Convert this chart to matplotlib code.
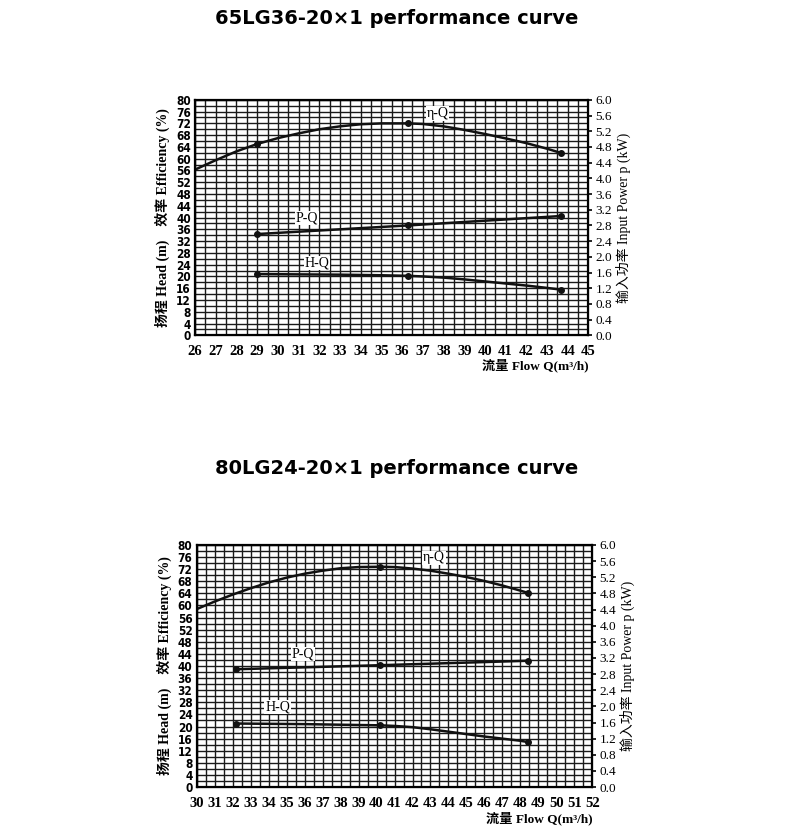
import numpy as np
import matplotlib
matplotlib.use('Agg')
import matplotlib.pyplot as plt
from matplotlib.ticker import MultipleLocator

# ---- 65LG36-20x1 ----
q1 = [26, 27, 28, 29, 30, 31, 32, 33, 34, 35, 36.3, 37, 38, 39, 40, 41, 42, 43, 43.7]
eta1 = [56.3, 59.5, 62.5, 65, 67, 68.6, 70, 71, 71.7, 72, 72, 71.8, 71, 69.8, 68.4, 66.9, 65.3, 63.4, 61.9]
eta1_marks = [3, 10, 18]
qp1 = [29, 36.3, 43.7]
p1 = [2.58, 2.80, 3.04]  # kW
qh1 = [29, 31, 33, 35, 36.3, 37, 38, 39, 40, 41, 42, 43, 43.7]
h1 = [20.8, 20.7, 20.6, 20.4, 20.2, 20.0, 19.6, 19.0, 18.3, 17.6, 16.9, 16.1, 15.5]
h1_marks = [0, 4, 12]

# ---- 80LG24-20x1 ----
q2 = [30, 31, 32, 33, 34, 35, 36, 37, 38, 39, 40.2, 41, 42, 43, 44, 45, 46, 47, 48, 48.4]
eta2 = [58.8, 61.3, 63.6, 65.7, 67.6, 69.2, 70.5, 71.5, 72.3, 72.7, 72.8, 72.7, 72.2, 71.5, 70.5, 69.4, 68.1, 66.6, 64.9, 64.2]
eta2_marks = [10, 19]
qp2 = [32.2, 40.2, 48.4]
p2 = [2.92, 3.02, 3.13]  # kW
qh2 = [32.2, 34, 36, 38, 40.2, 41, 42, 43, 44, 45, 46, 47, 48, 48.4]
h2 = [21.0, 20.9, 20.8, 20.6, 20.4, 20.2, 19.8, 19.1, 18.3, 17.5, 16.7, 16.0, 15.3, 14.9]
h2_marks = [0, 4, 13]

SERIF = ['Liberation Serif', 'Noto Sans CJK SC']


def draw_chart(fig, rect, title, title_y, q_min, q_max,
               q, eta, eta_marks, qp, p, qh, h, h_marks, labels):
    ax = fig.add_axes(rect)
    ax.set_xlim(q_min, q_max)
    ax.set_ylim(0, 80)

    # grid
    ax.xaxis.set_minor_locator(MultipleLocator(0.5))
    ax.yaxis.set_minor_locator(MultipleLocator(2))
    ax.grid(which='both', color='#1a1a1a', linewidth=1.0)
    ax.set_axisbelow(True)
    for s in ax.spines.values():
        s.set_linewidth(1.6)

    ax.set_xticks(np.arange(q_min, q_max + 1, 1))
    ax.set_yticks(np.arange(0, 81, 4))
    ax.tick_params(which='both', length=0, pad=3)
    for lab in ax.get_yticklabels():
        lab.set_family('DejaVu Sans')
        lab.set_stretch('condensed')
        lab.set_fontweight('bold')
        lab.set_fontsize(8.5)
    for lab in ax.get_xticklabels():
        lab.set_family(SERIF)
        lab.set_fontweight('bold')
        lab.set_fontsize(10.5)
    ax.tick_params(axis='x', pad=7)

    # right axis: input power
    ax2 = ax.twinx()
    ax2.set_ylim(0, 6)
    ax2.set_yticks(np.arange(0, 6.01, 0.4))
    ax2.set_yticklabels(['%.1f' % v for v in np.arange(0, 6.01, 0.4)],
                        family=SERIF, fontsize=9.5)
    ax2.tick_params(axis='y', length=3, width=1.2, pad=2)

    lw = 1.8
    ax.plot(q, eta, color='#111111', lw=lw, marker='o', ms=4, markevery=eta_marks, zorder=5)
    ax2.plot(qp, p, color='#111111', lw=lw, marker='o', ms=4, zorder=5)
    ax.plot(qh, h, color='#111111', lw=lw, marker='o', ms=4, markevery=h_marks, zorder=5)

    for txt, (x, y) in labels.items():
        ax.text(x, y, txt, family=SERIF, fontsize=10, ha='center', va='center',
                bbox=dict(facecolor='white', edgecolor='none', pad=0.5), zorder=6)

    ax.set_ylabel('扬程 Head (m)    效率 Efficiency (%)', family=SERIF,
                  fontsize=10, fontweight='bold', labelpad=4)
    ax2.set_ylabel('输入功率 Input Power p (kW)', family=SERIF,
                   fontsize=10, labelpad=3)
    ax.text(1.0, -0.13, '流量 Flow Q(m³/h)', transform=ax.transAxes,
            family=SERIF, fontsize=9.5, fontweight='bold', ha='right', va='center')

    fig.text(0.5, title_y, title, ha='center', va='center',
             fontsize=14, fontweight='bold', family='DejaVu Sans')
    return ax


fig = plt.figure(figsize=(7.93, 8.32), dpi=100)

draw_chart(fig, [0.246, 0.597, 0.496, 0.283], '65LG36-20×1 performance curve', 0.978,
           26, 45, q1, eta1, eta1_marks, qp1, p1, qh1, h1, h1_marks,
           {'η-Q': (37.7, 75.3), 'P-Q': (31.4, 39.8), 'H-Q': (31.9, 24.5)})

draw_chart(fig, [0.248, 0.054, 0.499, 0.291], '80LG24-20×1 performance curve', 0.4375,
           30, 52, q2, eta2, eta2_marks, qp2, p2, qh2, h2, h2_marks,
           {'η-Q': (43.2, 75.7), 'P-Q': (35.9, 44.0), 'H-Q': (34.5, 26.4)})

fig.savefig('out.png', dpi=100)
